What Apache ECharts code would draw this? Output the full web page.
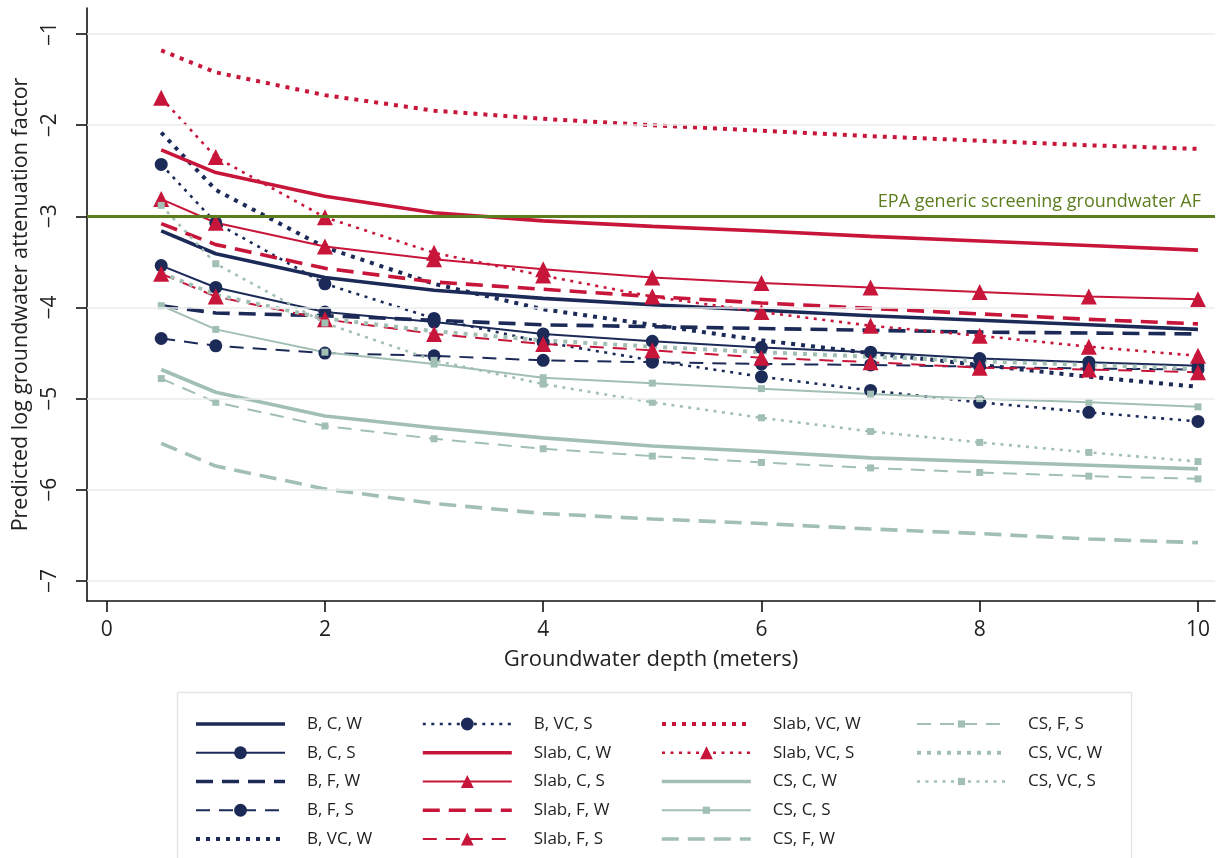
<!DOCTYPE html>
<html>
<head>
<meta charset="utf-8">
<script src="https://cdn.jsdelivr.net/npm/echarts@6/dist/echarts.min.js"></script>
<style>
  html, body { margin: 0; padding: 0; background: #ffffff; }
  #chart { width: 1221px; height: 858px; }
</style>
</head>
<body>
<div id="chart"></div>
<script>
// ---------------- data ----------------
const depths = [0.5, 1, 2, 3, 4, 5, 6, 7, 8, 9, 10];
const xTicks = [0, 2, 4, 6, 8, 10];
const yTicks = [-7, -6, -5, -4, -3, -2, -1];
const epaLevel = -3;
const epaLabel = 'EPA generic screening groundwater AF';

const B_C_W   = [-3.16, -3.41, -3.67, -3.81, -3.90, -3.97, -4.03, -4.09, -4.14, -4.19, -4.24];
const B_C_S   = [-3.54, -3.78, -4.05, -4.16, -4.29, -4.37, -4.44, -4.49, -4.56, -4.60, -4.64];
const B_F_W   = [-3.98, -4.06, -4.09, -4.14, -4.19, -4.21, -4.23, -4.25, -4.27, -4.28, -4.29];
const B_F_S   = [-4.34, -4.42, -4.50, -4.53, -4.58, -4.60, -4.62, -4.63, -4.65, -4.67, -4.68];
const B_VC_W  = [-2.08, -2.71, -3.34, -3.74, -4.02, -4.19, -4.36, -4.50, -4.63, -4.76, -4.87];
const B_VC_S  = [-2.43, -3.07, -3.74, -4.12, -4.38, -4.58, -4.76, -4.91, -5.04, -5.15, -5.25];
const Slab_C_W  = [-2.27, -2.52, -2.78, -2.96, -3.05, -3.11, -3.16, -3.22, -3.27, -3.32, -3.37];
const Slab_C_S  = [-2.81, -3.07, -3.33, -3.47, -3.58, -3.67, -3.73, -3.78, -3.83, -3.88, -3.91];
const Slab_F_W  = [-3.08, -3.31, -3.57, -3.72, -3.80, -3.88, -3.95, -4.01, -4.07, -4.13, -4.18];
const Slab_F_S  = [-3.63, -3.88, -4.13, -4.29, -4.40, -4.47, -4.55, -4.60, -4.66, -4.68, -4.71];
const Slab_VC_W = [-1.18, -1.42, -1.67, -1.84, -1.93, -2.00, -2.06, -2.12, -2.17, -2.22, -2.26];
const Slab_VC_S = [-1.70, -2.35, -3.01, -3.40, -3.65, -3.88, -4.05, -4.20, -4.31, -4.43, -4.53];
const CS_C_W  = [-4.68, -4.93, -5.19, -5.32, -5.43, -5.52, -5.58, -5.65, -5.69, -5.73, -5.77];
const CS_C_S  = [-3.98, -4.24, -4.49, -4.62, -4.77, -4.83, -4.89, -4.95, -5.00, -5.04, -5.09];
const CS_F_W  = [-5.49, -5.74, -5.99, -6.15, -6.26, -6.32, -6.37, -6.43, -6.48, -6.54, -6.58];
const CS_F_S  = [-4.78, -5.04, -5.30, -5.44, -5.55, -5.63, -5.70, -5.76, -5.81, -5.85, -5.88];
const CS_VC_W = [-3.62, -3.86, -4.12, -4.26, -4.36, -4.43, -4.49, -4.54, -4.59, -4.63, -4.67];
const CS_VC_S = [-2.88, -3.52, -4.17, -4.58, -4.84, -5.04, -5.21, -5.36, -5.48, -5.59, -5.69];

// series list: [legend name, values, group, sand type, season]
const seriesList = [
  ['B, C, W', B_C_W, 'B', 'C', 'W'],
  ['B, C, S', B_C_S, 'B', 'C', 'S'],
  ['B, F, W', B_F_W, 'B', 'F', 'W'],
  ['B, F, S', B_F_S, 'B', 'F', 'S'],
  ['B, VC, W', B_VC_W, 'B', 'VC', 'W'],
  ['B, VC, S', B_VC_S, 'B', 'VC', 'S'],
  ['Slab, C, W', Slab_C_W, 'Slab', 'C', 'W'],
  ['Slab, C, S', Slab_C_S, 'Slab', 'C', 'S'],
  ['Slab, F, W', Slab_F_W, 'Slab', 'F', 'W'],
  ['Slab, F, S', Slab_F_S, 'Slab', 'F', 'S'],
  ['Slab, VC, W', Slab_VC_W, 'Slab', 'VC', 'W'],
  ['Slab, VC, S', Slab_VC_S, 'Slab', 'VC', 'S'],
  ['CS, C, W', CS_C_W, 'CS', 'C', 'W'],
  ['CS, C, S', CS_C_S, 'CS', 'C', 'S'],
  ['CS, F, W', CS_F_W, 'CS', 'F', 'W'],
  ['CS, F, S', CS_F_S, 'CS', 'F', 'S'],
  ['CS, VC, W', CS_VC_W, 'CS', 'VC', 'W'],
  ['CS, VC, S', CS_VC_S, 'CS', 'VC', 'S']
];

// ---------------- styles ----------------
const FONT = '"Open Sans", "DejaVu Sans", sans-serif';
const TXT = '#222222';
const groupStyle = {
  B:    { color: '#1c2a58', symbol: 'circle',   size: 13 },
  Slab: { color: '#c8153a', symbol: 'triangle', size: 16 },
  CS:   { color: '#a2bfb4', symbol: 'rect',     size: 7 }
};
const lineStyleFor = (sand, season) => {
  const thick = season === 'W';
  const w = thick ? 3.6 : 2;
  if (sand === 'C') return { width: w, type: 'solid' };
  if (sand === 'F') return { width: w, type: thick ? [17, 9] : [14, 9] };
  return { width: thick ? 4 : 2.6, type: thick ? [4, 6] : [3, 5.5] };
};

const series = seriesList.map(([name, vals, grp, sand, season]) => {
  const g = groupStyle[grp];
  const ls = lineStyleFor(sand, season);
  const withMarker = season === 'S';
  return {
    name: name,
    type: 'line',
    data: depths.map((d, i) => [d, vals[i]]),
    symbol: g.symbol,
    symbolSize: g.size,
    showSymbol: withMarker,
    itemStyle: { color: g.color, borderWidth: 0, opacity: withMarker ? 1 : 0 },
    lineStyle: { color: g.color, width: ls.width, type: ls.type, cap: 'butt', opacity: 1 },
    emphasis: { disabled: true },
    animation: false,
    z: 3
  };
});

// grid lines + EPA reference line
series.unshift({
  name: 'grid',
  type: 'line',
  data: [],
  silent: true,
  animation: false,
  z: 1,
  markLine: {
    silent: true,
    symbol: 'none',
    animation: false,
    label: { show: false },
    lineStyle: { color: '#e8edeb', width: 1.5, type: 'solid' },
    data: yTicks.filter(v => v !== epaLevel).map(v => ({ yAxis: v }))
  }
});
series.push({
  name: 'epa',
  type: 'line',
  data: [],
  silent: true,
  animation: false,
  z: 2,
  markLine: {
    silent: true,
    symbol: 'none',
    animation: false,
    lineStyle: { color: '#5b7d1d', width: 3.2, type: 'solid' },
    label: {
      show: true,
      position: 'insideEndTop',
      formatter: epaLabel,
      color: '#5b7d1d',
      fontFamily: FONT,
      fontSize: 18,
      distance: [14, 5]
    },
    data: [{ yAxis: epaLevel }]
  }
});

// legend layout: column-major blocks [names, left, first row index, icon height]
const names = seriesList.map(s => s[0]);
const ROW0 = 709, ROWSTEP = 28.75;
const legendBlocks = [
  [names.slice(0, 5), 189, 0, 16],
  [names.slice(5, 10), 416, 0, 16],
  [names.slice(10, 12), 655, 0, 16],
  [names.slice(12, 15), 655, 2, 9],
  [names.slice(15, 18), 910, 0, 9]
];
const legends = legendBlocks.map(([col, left, row, ih]) => ({
  data: col,
  orient: 'vertical',
  left: left,
  top: ROW0 + row * ROWSTEP,
  itemWidth: 89,
  itemHeight: ih,
  itemGap: ROWSTEP - 20,
  selectedMode: false,
  lineStyle: { width: 'inherit' },
  textStyle: { fontFamily: FONT, fontSize: 17, color: TXT, lineHeight: 20, padding: [0, 0, 0, 17] }
}));

const minus = v => String(v).replace('-', '\u2212');

const option = {
  backgroundColor: '#ffffff',
  animation: false,
  grid: { left: 87, right: 6, top: 8, bottom: 257, containLabel: false },
  legend: legends,
  graphic: [{
    type: 'rect',
    left: 175, top: 690,
    shape: { width: 954, height: 200 },
    style: { fill: 'none', stroke: '#e2e6e4', lineWidth: 1.5 },
    silent: true
  }],
  xAxis: {
    type: 'value',
    min: -0.18,
    max: 10.156,
    name: 'Groundwater depth (meters)',
    nameLocation: 'middle',
    nameGap: 48,
    nameTextStyle: { fontFamily: FONT, fontSize: 22, color: TXT },
    axisLine: { show: true, onZero: false, lineStyle: { color: '#111', width: 1.6 } },
    axisTick: { show: true, length: 11, customValues: xTicks, lineStyle: { color: '#111', width: 1.6 } },
    axisLabel: { customValues: xTicks, margin: 19, fontFamily: FONT, fontSize: 21, color: TXT },
    splitLine: { show: false }
  },
  yAxis: {
    type: 'value',
    min: -7.22,
    max: -0.714,
    name: 'Predicted log groundwater attenuation factor',
    nameLocation: 'middle',
    nameRotate: 90,
    nameGap: 48,
    nameTextStyle: { fontFamily: FONT, fontSize: 21.5, color: TXT },
    axisLine: { show: true, onZero: false, lineStyle: { color: '#111', width: 1.6 } },
    axisTick: { show: true, length: 11, customValues: yTicks, lineStyle: { color: '#111', width: 1.6 } },
    axisLabel: { customValues: yTicks, rotate: 90, margin: 26, fontFamily: FONT, fontSize: 21, color: TXT, formatter: minus },
    splitLine: { show: false }
  },
  series: series
};

const chart = echarts.init(document.getElementById('chart'), null, { renderer: 'canvas' });
chart.setOption(option);
</script>
</body>
</html>
